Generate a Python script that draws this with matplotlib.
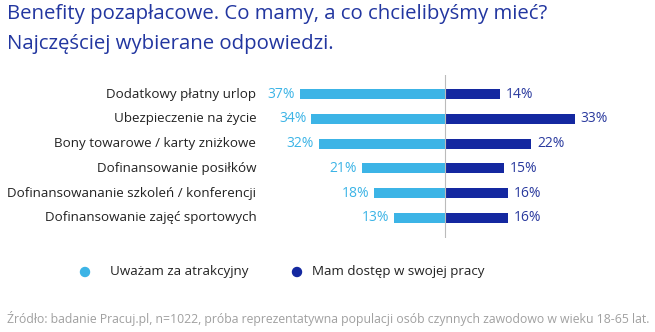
import matplotlib
matplotlib.use('Agg')
import matplotlib.pyplot as plt
from matplotlib.patches import Ellipse

plt.rcParams['font.family'] = ['Open Sans', 'DejaVu Sans']

categories = ['Dodatkowy płatny urlop', 'Ubezpieczenie na życie',
              'Bony towarowe / karty zniżkowe', 'Dofinansowanie posiłków',
              'Dofinansowananie szkoleń / konferencji',
              'Dofinansowanie zajęć sportowych']
attractive = [37, 34, 32, 21, 18, 13]
have_access = [14, 33, 22, 15, 16, 16]
series_names = ['Uważam za atrakcyjny', 'Mam dostęp w swojej pracy']

LIGHT = '#3cb4e6'
DARK = '#1428a0'
TITLE = '#2236a0'

W, H = 655, 332
fig = plt.figure(figsize=(W / 100, H / 100), dpi=100)

# axes: center at x=445px, ~3.93 px per percent
px = 3.93
ax = fig.add_axes([(445 - 50 * px) / W, (H - 238) / H, 100 * px / W, 163 / H])
ax.set_xlim(-50, 50)
ax.set_ylim(5.81, -0.77)
ax.axis('off')

ys = list(range(len(categories)))
ax.barh(ys, [-v for v in attractive], height=0.4, color=LIGHT)
ax.barh(ys, have_access, height=0.4, color=DARK)
ax.axvline(0, color='#bbbbbb', lw=0.8)

for y, cat, a, b in zip(ys, categories, attractive, have_access):
    ax.text(-a - 1.3, y, f'{a}%', ha='right', va='center', fontsize=10, color=LIGHT)
    ax.text(b + 1.5, y, f'{b}%', ha='left', va='center', fontsize=10, color='#2a3a9e')
    ax.text(-48, y, cat, ha='right', va='center', fontsize=9.6, color='#222222')

fig.text(7 / W, 1 - 14 / H, 'Benefity pozapłacowe. Co mamy, a co chcielibyśmy mieć?',
         ha='left', va='center', fontsize=14.7, color=TITLE)
fig.text(7 / W, 1 - 44 / H, 'Najczęściej wybierane odpowiedzi.',
         ha='left', va='center', fontsize=14.7, color=TITLE)

# legend
for xc, xt, name, col in [(85, 110, series_names[0], LIGHT), (297, 312, series_names[1], DARK)]:
    fig.patches.append(Ellipse((xc / W, 1 - 272 / H), 9 / W, 9 / H,
                               transform=fig.transFigure, color=col))
    fig.text(xt / W, 1 - 272 / H, name, ha='left', va='center',
             fontsize=9.6, color='#222222')

fig.text(7 / W, 1 - 318 / H,
         'Źródło: badanie Pracuj.pl, n=1022, próba reprezentatywna populacji osób '
         'czynnych zawodowo w wieku 18-65 lat.',
         ha='left', va='center', fontsize=8.8, color='#a0a0a0')

fig.savefig('out.png', dpi=100, facecolor='white')
